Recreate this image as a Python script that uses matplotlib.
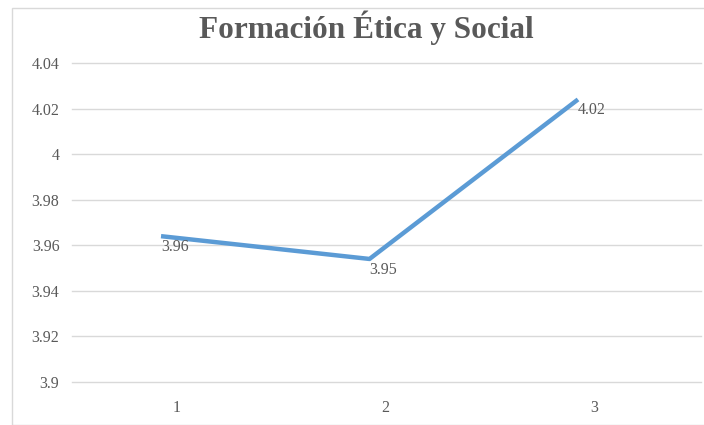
"""Line chart: Formación Ética y Social (Excel-style)."""
import matplotlib
matplotlib.use("Agg")
import matplotlib.pyplot as plt
import matplotlib.transforms as mtransforms
from matplotlib.patches import Rectangle

categories = [1, 2, 3]
values = [3.964, 3.954, 4.024]
value_labels = ["3.96", "3.95", "4.02"]
y_ticks = [3.9, 3.92, 3.94, 3.96, 3.98, 4.0, 4.02, 4.04]
y_tick_labels = ["3.9", "3.92", "3.94", "3.96", "3.98", "4", "4.02", "4.04"]
x_tick_labels = ["1", "2", "3"]

TEXT = "#595959"
LINE = "#5B9BD5"
GRID = "#D9D9D9"
SERIF = ["Liberation Serif", "DejaVu Serif"]

fig = plt.figure(figsize=(7.04, 4.25), dpi=100)
W, H = 704, 425

# outer chart border (light gray, partly cropped)
fig.patches.append(Rectangle((12 / W, 0), 1.0, 1 - 8 / H, transform=fig.transFigure,
                             fill=False, edgecolor="#D9D9D9", linewidth=1.0))

ax = fig.add_axes([72 / W, 1 - 382 / H, (701 - 72) / W, (382 - 63) / H])
ax.plot(categories, values, color=LINE, linewidth=3.2, solid_capstyle="butt")

for x, y, lab in zip(categories, values, value_labels):
    ax.annotate(lab, (x, y), xytext=(0, -11), textcoords="offset pixels",
                ha="left", va="center", fontsize=11.5, color=TEXT, family=SERIF)

ax.set_ylim(3.9, 4.04)
ax.set_xlim(0.573, 3.59)
ax.set_yticks(y_ticks)
ax.set_yticklabels(y_tick_labels, family=SERIF, fontsize=11.5, color=TEXT)
ax.set_xticks(categories)
ax.set_xticklabels(x_tick_labels, family=SERIF, fontsize=11.5, color=TEXT)
ax.tick_params(axis="both", length=0)
ax.tick_params(axis="y", pad=9)
ax.tick_params(axis="x", pad=13)

# category labels sit a little right of the data points in the original
shift = mtransforms.ScaledTranslation(16 / 100, 0, fig.dpi_scale_trans)
for t in ax.get_xticklabels():
    t.set_transform(t.get_transform() + shift)

ax.grid(axis="y", color=GRID, linewidth=1.0)
for gl in ax.get_ygridlines():
    gl.set_clip_on(False)
ax.set_axisbelow(True)
for s in ax.spines.values():
    s.set_visible(False)

fig.text(366 / W, 1 - 28 / H, "Formación Ética y Social", ha="center", va="center",
         fontsize=22.5, fontweight="bold", color=TEXT, family=SERIF)

fig.savefig("out.png", dpi=100)
